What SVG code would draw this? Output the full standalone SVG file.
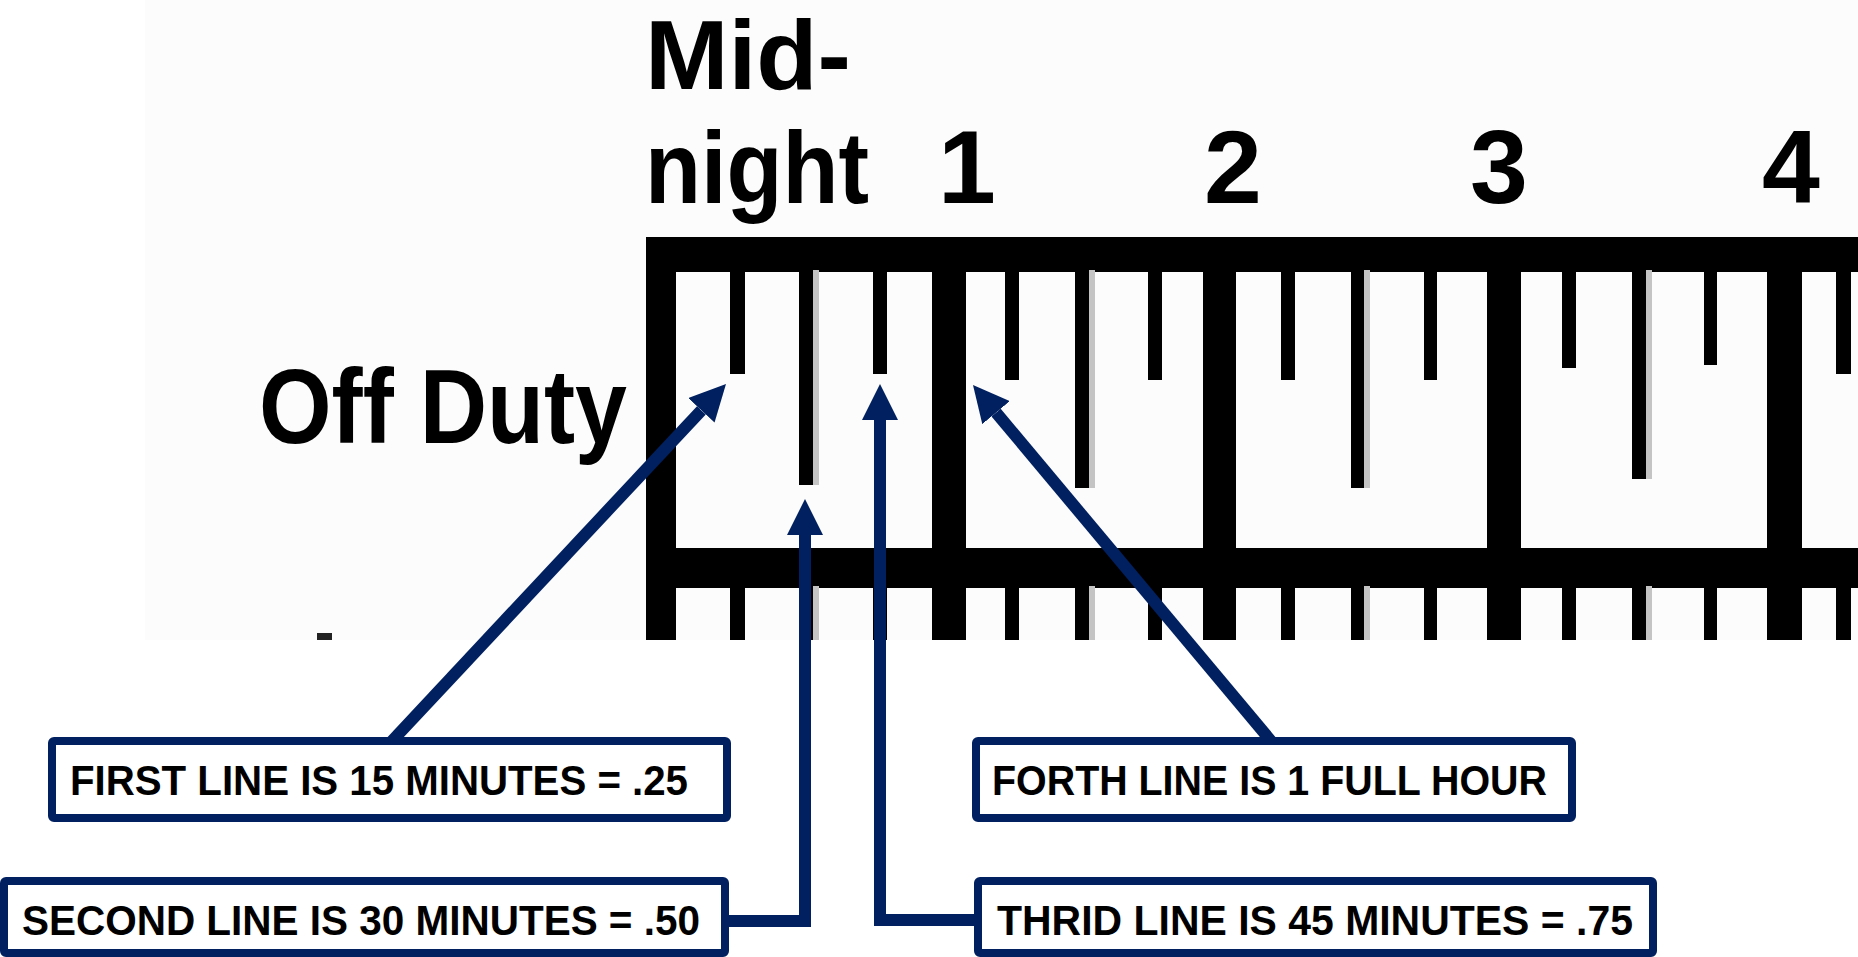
<svg xmlns="http://www.w3.org/2000/svg" width="1858" height="957" viewBox="0 0 1858 957">
  <defs>
    <marker id="ah" markerUnits="userSpaceOnUse" viewBox="0 0 36 36" markerWidth="36" markerHeight="36" refX="0" refY="18" orient="auto">
      <path d="M0,0 L36,18 L0,36 z" fill="#002060"/>
    </marker>
    <style>
      .big { font-family: "Liberation Sans", Arial, sans-serif; font-weight: bold; fill: #000; }
      .lbl { font-family: "Liberation Sans", Arial, sans-serif; font-weight: bold; font-size: 42px; fill: #000; }
      .box { fill: #fff; stroke: #002060; stroke-width: 8; }
      .conn { fill: none; stroke: #002060; stroke-width: 12; stroke-linejoin: miter; marker-end: url(#ah); }
      .ink { fill: #000; }
      .shade { fill: #c4c4c4; }
    </style>
  </defs>

  <rect x="0" y="0" width="1858" height="957" fill="#ffffff"/>
  <rect x="145" y="0" width="1713" height="640" fill="#fcfcfc"/>
  <rect x="317" y="633" width="15" height="7" fill="#222"/>

  <g id="ruler">
    <!-- horizontal bars -->
    <rect class="ink" x="646" y="237" width="1212" height="35"/>
    <rect class="ink" x="646" y="548" width="1212" height="40"/>
    <!-- hour bars -->
    <rect class="ink" x="646" y="237" width="30" height="403"/>
    <rect class="ink" x="932" y="237" width="34" height="403"/>
    <rect class="ink" x="1203" y="237" width="33" height="403"/>
    <rect class="ink" x="1487" y="237" width="34" height="403"/>
    <rect class="ink" x="1767" y="237" width="35" height="403"/>
    <!-- upper minor ticks -->
    <rect class="ink" x="730" y="270" width="15" height="104"/>
    <rect class="shade" x="813" y="270" width="6" height="215"/>
    <rect class="ink" x="799" y="270" width="14" height="215"/>
    <rect class="ink" x="873" y="270" width="14" height="104"/>

    <rect class="ink" x="1005" y="270" width="14" height="110"/>
    <rect class="shade" x="1089" y="270" width="6" height="218"/>
    <rect class="ink" x="1075" y="270" width="14" height="218"/>
    <rect class="ink" x="1148" y="270" width="14" height="110"/>

    <rect class="ink" x="1281" y="270" width="14" height="110"/>
    <rect class="shade" x="1364" y="270" width="6" height="218"/>
    <rect class="ink" x="1351" y="270" width="13" height="218"/>
    <rect class="ink" x="1424" y="270" width="13" height="110"/>

    <rect class="ink" x="1562" y="270" width="14" height="98"/>
    <rect class="shade" x="1646" y="270" width="6" height="209"/>
    <rect class="ink" x="1632" y="270" width="14" height="209"/>
    <rect class="ink" x="1704" y="270" width="13" height="95"/>

    <rect class="ink" x="1836" y="270" width="15" height="104"/>
    <!-- lower minor ticks -->
    <rect class="ink" x="730" y="586" width="15" height="54"/>
    <rect class="shade" x="813" y="586" width="6" height="54"/>
    <rect class="ink" x="799" y="586" width="14" height="54"/>
    <rect class="ink" x="873" y="586" width="14" height="54"/>
    <rect class="ink" x="1005" y="586" width="14" height="54"/>
    <rect class="shade" x="1089" y="586" width="6" height="54"/>
    <rect class="ink" x="1075" y="586" width="14" height="54"/>
    <rect class="ink" x="1148" y="586" width="14" height="54"/>
    <rect class="ink" x="1281" y="586" width="14" height="54"/>
    <rect class="shade" x="1364" y="586" width="6" height="54"/>
    <rect class="ink" x="1351" y="586" width="13" height="54"/>
    <rect class="ink" x="1424" y="586" width="13" height="54"/>
    <rect class="ink" x="1562" y="586" width="14" height="54"/>
    <rect class="shade" x="1646" y="586" width="6" height="54"/>
    <rect class="ink" x="1632" y="586" width="14" height="54"/>
    <rect class="ink" x="1704" y="586" width="13" height="54"/>
    <rect class="ink" x="1836" y="586" width="15" height="54"/>
  </g>

  <g id="labels">
    <text class="big" x="645" y="89" font-size="98" textLength="206" lengthAdjust="spacingAndGlyphs">Mid-</text>
    <text class="big" x="645" y="203" font-size="102" textLength="224" lengthAdjust="spacingAndGlyphs">night</text>
    <text class="big" x="967" y="203" font-size="104" text-anchor="middle">1</text>
    <text class="big" x="1233" y="203" font-size="104" text-anchor="middle">2</text>
    <text class="big" x="1499" y="203" font-size="104" text-anchor="middle">3</text>
    <text class="big" x="1791" y="203" font-size="104" text-anchor="middle">4</text>
    <text class="big" x="259" y="443" font-size="105" textLength="368" lengthAdjust="spacingAndGlyphs">Off Duty</text>
  </g>

  <g id="connectors">
    <polyline class="conn" points="392,741 701.4,410.3"/>
    <polyline class="conn" points="725,921 805,921 805,535"/>
    <polyline class="conn" points="978,920 880,920 880,420"/>
    <polyline class="conn" points="1271,741 996.1,412.6"/>
  </g>

  <g id="box-first">
    <rect class="box" x="52" y="741" width="675" height="77" rx="2"/>
    <text class="lbl" x="70" y="795" textLength="618" lengthAdjust="spacingAndGlyphs">FIRST LINE IS 15 MINUTES = .25</text>
  </g>
  <g id="box-second">
    <rect class="box" x="4" y="881" width="721" height="72" rx="2"/>
    <text class="lbl" x="22" y="935" textLength="678" lengthAdjust="spacingAndGlyphs">SECOND LINE IS 30 MINUTES = .50</text>
  </g>
  <g id="box-forth">
    <rect class="box" x="976" y="741" width="596" height="77" rx="2"/>
    <text class="lbl" x="992" y="795" textLength="555" lengthAdjust="spacingAndGlyphs">FORTH LINE IS 1 FULL HOUR</text>
  </g>
  <g id="box-third">
    <rect class="box" x="978" y="881" width="675" height="72" rx="2"/>
    <text class="lbl" x="997" y="935" textLength="636" lengthAdjust="spacingAndGlyphs">THRID LINE IS 45 MINUTES = .75</text>
  </g>
</svg>
